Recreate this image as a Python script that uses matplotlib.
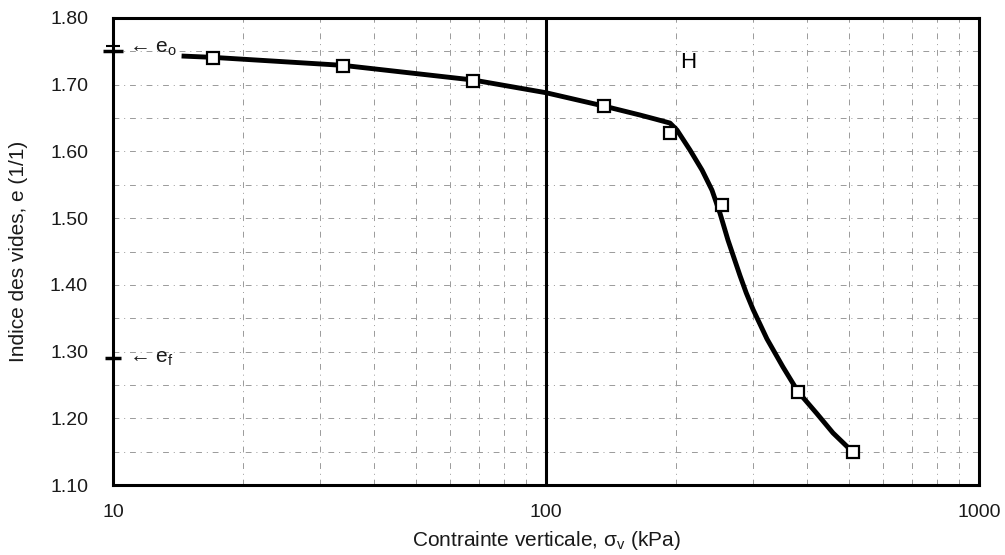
import matplotlib
matplotlib.use("Agg")
import matplotlib.pyplot as plt
from matplotlib.ticker import FixedLocator, NullFormatter

plt.rcParams['font.family'] = ['Liberation Sans', 'DejaVu Sans']
plt.rcParams['mathtext.default'] = 'regular'

# Oedometer test: measured points
sigma_pts = [17, 34, 68, 136, 193, 255, 382, 512]
e_pts = [1.740, 1.728, 1.705, 1.668, 1.628, 1.520, 1.239, 1.149]

# Fitted compression curve
sigma_curve = [14.4, 17, 34, 68, 100, 136, 165, 180, 193.4, 200.7, 215.1, 229.3,
               241.7, 252.2, 263.2, 280.5, 290.0, 300.8, 323.8, 352.5, 381.9, 422.3,
               460.1, 511.8]
e_curve = [1.743, 1.741, 1.729, 1.707, 1.688, 1.668, 1.6545, 1.648, 1.6425, 1.632,
           1.602, 1.572, 1.542, 1.5075, 1.467, 1.414, 1.388, 1.363, 1.319, 1.277,
           1.240, 1.207, 1.178, 1.149]

e_o = 1.750
e_f = 1.290

y_ticks = [1.10, 1.20, 1.30, 1.40, 1.50, 1.60, 1.70, 1.80]
x_ticks = [10, 100, 1000]
x_minor = [20, 30, 40, 50, 60, 70, 80, 90, 200, 300, 400, 500, 600, 700, 800, 900]
y_minor = [1.15, 1.25, 1.35, 1.45, 1.55, 1.65, 1.75]

fig = plt.figure(figsize=(10.05, 5.55), dpi=100)
ax = fig.add_axes([113 / 1005, 1 - 485 / 555, (979 - 113) / 1005, (485 - 18) / 555])

ax.set_xscale('log')
ax.set_xlim(10, 1000)
ax.set_ylim(1.10, 1.80)

grid_style = dict(color='#9a9a9a', lw=0.7, ls=(0, (6, 5, 1, 5)), zorder=1)
for xv in x_minor:
    ax.axvline(xv, **grid_style)
for yv in y_ticks[1:-1] + y_minor:
    ax.axhline(yv, **grid_style)
ax.axvline(100, color='black', lw=2.2, zorder=2)

ax.plot(sigma_curve, e_curve, color='black', lw=3.5, solid_capstyle='butt',
        solid_joinstyle='round', zorder=3)
ax.plot(sigma_pts, e_pts, ls='none', marker='s', ms=8, mfc='white', mec='black',
        mew=1.6, zorder=4)

ax.xaxis.set_major_locator(FixedLocator(x_ticks))
ax.xaxis.set_minor_locator(FixedLocator([]))
ax.xaxis.set_minor_formatter(NullFormatter())
ax.set_xticklabels(['10', '100', '1000'])
ax.set_yticks(y_ticks)
ax.set_yticklabels([f'{v:.2f}' for v in y_ticks])
ax.tick_params(axis='both', length=0, labelsize=14, colors='#1a1a1a')
ax.tick_params(axis='y', pad=18)
ax.tick_params(axis='x', pad=14)

for s in ax.spines.values():
    s.set_linewidth(2.2)
    s.set_color('black')

fig.text((113 + 979) / 2 / 1005, 1 - 541 / 555,
         'Contrainte verticale, $\\sigma_v$ (kPa)', fontsize=15, ha='center',
         va='center', color='#1a1a1a')
ax.set_ylabel('Indice des vides, e (1/1)', fontsize=15, labelpad=16, color='#1a1a1a')

# e_o and e_f markers on the axis
ax.plot([10], [e_o], ls='none', marker='_', ms=14, mew=2.5, color='black',
        clip_on=False, zorder=5)
ax.plot([10], [e_o + 0.008], ls='none', marker='_', ms=10, mew=1.5, color='black',
        clip_on=False, zorder=5)
ax.plot([10], [e_f], ls='none', marker='_', ms=12, mew=2.5, color='black',
        clip_on=False, zorder=5)
ax.text(10.9, e_o + 0.004, '\u2190 e$_o$', fontsize=15, va='center', ha='left',
        color='#1a1a1a')
ax.text(10.9, e_f, '\u2190 e$_f$', fontsize=15, va='center', ha='left',
        color='#1a1a1a')
ax.text(204, 1.733, 'H', fontsize=16, va='center', ha='left', color='black')

fig.savefig('out.png', dpi=100)
